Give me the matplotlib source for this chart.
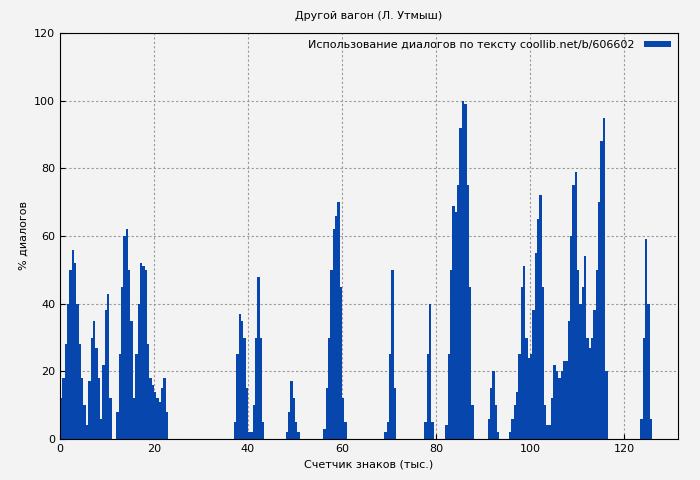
import numpy as np
import matplotlib.pyplot as plt

# x (тыс. знаков) -> % диалогов, шаг 0.5
x_vals = np.concatenate([
    np.arange(0, 23, 0.5),
    np.arange(37, 43.5, 0.5),
    np.arange(48, 51, 0.5),
    np.arange(56, 61, 0.5),
    np.arange(69, 71.5, 0.5),
    np.arange(77.5, 79.5, 0.5),
    np.arange(82, 88, 0.5),
    np.arange(91, 93.5, 0.5),
    np.arange(95.5, 104, 0.5),
    np.arange(104, 116.5, 0.5),
    np.arange(123.5, 126, 0.5),
])
y_vals = [
    12, 18, 28, 40, 50, 56, 52, 40, 28, 18, 10, 4, 17, 30, 35, 27, 18, 6, 22, 38, 43, 12, 0, 0,
    8, 25, 45, 60, 62, 50, 35, 12, 25, 40, 52, 51, 50, 28, 18, 16, 14, 12, 11, 15, 18, 8,
    5, 25, 37, 35, 30, 15, 2, 2, 10, 30, 48, 30, 5,
    2, 8, 17, 12, 5, 2,
    3, 15, 30, 50, 62, 66, 70, 45, 12, 5,
    2, 5, 25, 50, 15,
    5, 25, 40, 5,
    4, 25, 50, 69, 67, 75, 92, 100, 99, 75, 45, 10,
    6, 15, 20, 10, 2,
    2, 6, 10, 14, 25, 45, 51, 30, 24, 25, 38, 55, 65, 72, 45, 10, 4,
    4, 12, 22, 20, 18, 20, 23, 23, 35, 60, 75, 79, 50, 40, 45, 54, 30, 27, 30, 38, 50, 70, 88, 95, 20,
    6, 30, 59, 40, 6,
]

bg = "#f3f3f3"
fig = plt.figure(figsize=(7, 4.8), dpi=100, facecolor=bg)
ax = fig.add_axes([60 / 700, 41 / 480, 618 / 700, 406 / 480], facecolor=bg)

ax.bar(x_vals, y_vals, width=0.5, align="edge", color="#0746ac", linewidth=0,
       label="Использование диалогов по тексту coollib.net/b/606602")

ax.set_xlim(0, 131.5)
ax.set_ylim(0, 120)
ax.set_xticks(range(0, 121, 20))
ax.set_yticks(range(0, 121, 20))
ax.tick_params(labelsize=8, direction="in")
ax.grid(linestyle=(0, (2, 2)), color="#999999", linewidth=0.8)
ax.set_axisbelow(True)

ax.set_title("Другой вагон (Л. Утмыш)", fontsize=8, pad=10)
ax.set_xlabel("Счетчик знаков (тыс.)", fontsize=8)
ax.set_ylabel("% диалогов", fontsize=8)
ax.legend(loc="upper right", fontsize=8, frameon=False, markerfirst=False,
          handlelength=2.5, handleheight=0.5, borderaxespad=0.2)

fig.savefig("out.png", dpi=100, facecolor=bg)
